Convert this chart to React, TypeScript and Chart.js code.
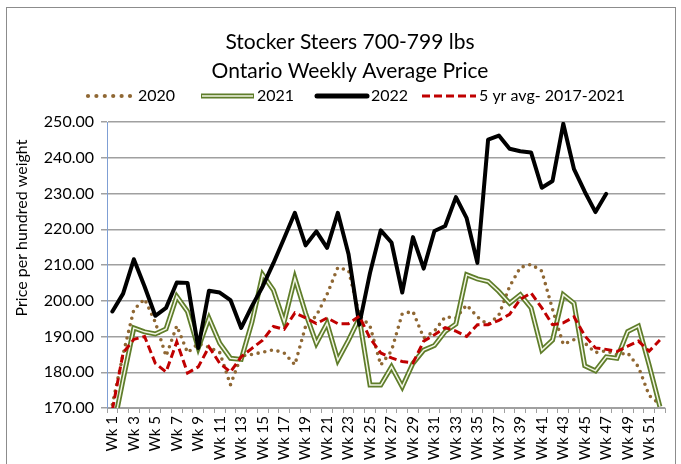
import React, { useEffect, useRef } from 'react';
import { Chart, registerables } from 'chart.js';

Chart.register(...registerables);

const FONT = 'Lato, "Open Sans", sans-serif';

const weeks = [
  'Wk 1', 'Wk 2', 'Wk 3', 'Wk 4', 'Wk 5', 'Wk 6', 'Wk 7', 'Wk 8', 'Wk 9', 'Wk 10',
  'Wk 11', 'Wk 12', 'Wk 13', 'Wk 14', 'Wk 15', 'Wk 16', 'Wk 17', 'Wk 18', 'Wk 19', 'Wk 20',
  'Wk 21', 'Wk 22', 'Wk 23', 'Wk 24', 'Wk 25', 'Wk 26', 'Wk 27', 'Wk 28', 'Wk 29', 'Wk 30',
  'Wk 31', 'Wk 32', 'Wk 33', 'Wk 34', 'Wk 35', 'Wk 36', 'Wk 37', 'Wk 38', 'Wk 39', 'Wk 40',
  'Wk 41', 'Wk 42', 'Wk 43', 'Wk 44', 'Wk 45', 'Wk 46', 'Wk 47', 'Wk 48', 'Wk 49', 'Wk 50',
  'Wk 51', 'Wk 52',
];

const y2020 = [
  171, 185, 197.5, 200.5, 194, 184.5, 193, 185.5, 188, 187,
  185.5, 176.5, 184.5, 185, 185.6, 186.3, 185.4, 182.1, 192.9, 195.8,
  201.8, 209.3, 208.5, 196, 192.9, 182, 186, 196.4, 197, 189.6,
  191.5, 195.5, 195.2, 198.8, 195.5, 193.3, 196, 204, 209.3, 210.2,
  208.3, 197.6, 187.8, 189.1, 188.2, 185.5, 186, 184.9, 185.4, 181.5,
  173.5, 171,
];

const y2021 = [
  163, 178, 192.4, 191.3, 190.7, 192.1, 201.2, 197, 186.8, 195.1,
  188.1, 183.9, 183.6, 194, 207.3, 203, 194.1, 206.3, 196.5, 188.1,
  193.7, 183.4, 189, 195.1, 176.4, 176.4, 181.5, 175.9, 182.5, 186.2,
  187.5, 191.4, 193.5, 207.3, 206.1, 205.4, 202.6, 199.3, 201.7, 198,
  186.2, 189, 201.7, 199.3, 181.8, 180.4, 184.3, 183.9, 191.4, 192.9,
  182, 170.4,
];

const y2022 = [
  197, 202, 211.6, 204, 195.8, 198, 205.1, 205, 186.8, 202.8,
  202.3, 200.2, 192.4, 198.5, 204, 210.5, 217.5, 224.6, 215.5, 219.4,
  214.8, 224.6, 213, 193.3, 207.8, 219.7, 216.3, 202.3, 217.8, 209,
  219.5, 220.9, 229, 223.1, 210.6, 245.1, 246.2, 242.5, 241.8, 241.5,
  231.6, 233.5, 249.5, 236.8, 230.5, 224.8, 229.9, null, null, null,
  null, null,
];

const avg5 = [
  169.5, 185.4, 189.2, 190, 182.5, 180.1, 188.5, 179.8, 181.5, 187.1,
  182.5, 180.1, 184.3, 186.7, 189, 192.8, 192, 196.6, 195.2, 193.6,
  195.2, 193.6, 193.6, 195.7, 189.5, 185.4, 184, 183, 182.6, 188.7,
  190.5, 192.5, 191.5, 190, 193.3, 193.3, 194.5, 196.2, 200.4, 202.2,
  198, 193.3, 193.8, 195.5, 190.2, 186.8, 186.4, 185.8, 187.3, 188.7,
  185.9, 189,
];

const seriesNames = ['2020', '2021', '2022', '5 yr avg- 2017-2021'];
const titleLines = ['Stocker Steers 700-799 lbs', 'Ontario Weekly Average Price'];
const yTitle = 'Price per hundred weight';
const yMin = 170;
const yMax = 250;
const yStep = 10;

const BROWN = '#8f6733';
const GREEN = '#5f7d2a';
const GREEN_IN = '#f3f7e6';
const BLACK = '#000000';
const RED = '#c00000';

const overlay = {
  id: 'overlay',
  afterDraw(chart: any) {
    const ctx = chart.ctx as CanvasRenderingContext2D;
    ctx.save();
    ctx.fillStyle = '#000';
    ctx.textAlign = 'center';
    ctx.textBaseline = 'middle';
    ctx.font = `21px ${FONT}`;
    ctx.fillText(titleLines[0], 350, 42);
    ctx.fillText(titleLines[1], 350, 71);

    const ly = 96;
    ctx.font = `16px ${FONT}`;
    ctx.textAlign = 'left';
    // 2020 dotted
    ctx.fillStyle = BROWN;
    for (let i = 0; i < 6; i++) {
      ctx.beginPath();
      ctx.arc(88 + i * 8.4, ly, 2.1, 0, Math.PI * 2);
      ctx.fill();
    }
    ctx.fillStyle = '#000';
    ctx.fillText(seriesNames[0], 138, ly);
    // 2021 double
    ctx.lineCap = 'butt';
    ctx.strokeStyle = GREEN;
    ctx.lineWidth = 5;
    ctx.beginPath(); ctx.moveTo(201, ly); ctx.lineTo(254, ly); ctx.stroke();
    ctx.strokeStyle = GREEN_IN;
    ctx.lineWidth = 1.5;
    ctx.beginPath(); ctx.moveTo(202, ly); ctx.lineTo(253, ly); ctx.stroke();
    ctx.fillText(seriesNames[1], 257, ly);
    // 2022
    ctx.strokeStyle = BLACK;
    ctx.lineWidth = 5;
    ctx.lineCap = 'round';
    ctx.beginPath(); ctx.moveTo(317, ly); ctx.lineTo(367, ly); ctx.stroke();
    ctx.fillText(seriesNames[2], 371, ly);
    // 5 yr
    ctx.strokeStyle = RED;
    ctx.lineWidth = 3;
    ctx.lineCap = 'butt';
    ctx.setLineDash([8, 4]);
    ctx.beginPath(); ctx.moveTo(422, ly); ctx.lineTo(476, ly); ctx.stroke();
    ctx.setLineDash([]);
    ctx.fillText(seriesNames[3], 479, ly);

    // y title
    ctx.translate(22, 228);
    ctx.rotate(-Math.PI / 2);
    ctx.textAlign = 'center';
    ctx.font = `16px ${FONT}`;
    ctx.fillText(yTitle, 0, 0);
    ctx.restore();
  },
};

export default function App() {
  const ref = useRef<HTMLCanvasElement | null>(null);

  useEffect(() => {
    if (!ref.current) return;
    const chart = new Chart(ref.current, {
      type: 'line',
      data: {
        labels: weeks,
        datasets: [
          {
            label: seriesNames[3],
            data: avg5,
            borderColor: RED,
            borderWidth: 3,
            borderDash: [8, 4],
            pointRadius: 0,
            tension: 0,
            fill: false,
            order: 0,
          },
          {
            label: seriesNames[2],
            data: y2022,
            borderColor: BLACK,
            borderWidth: 4,
            borderJoinStyle: 'round',
            borderCapStyle: 'round',
            pointRadius: 0,
            tension: 0,
            fill: false,
            order: 1,
          },
          {
            label: seriesNames[1] + ' inner',
            data: y2021,
            borderColor: GREEN_IN,
            borderWidth: 1.5,
            pointRadius: 0,
            tension: 0,
            fill: false,
            order: 2,
          },
          {
            label: seriesNames[1],
            data: y2021,
            borderColor: GREEN,
            borderWidth: 5,
            pointRadius: 0,
            tension: 0,
            fill: false,
            order: 3,
          },
          {
            label: seriesNames[0],
            data: y2020,
            borderColor: BROWN,
            borderWidth: 3.6,
            borderDash: [0, 6.8],
            borderCapStyle: 'round',
            pointRadius: 0,
            tension: 0,
            fill: false,
            order: 4,
          },
        ],
      },
      options: {
        animation: false,
        responsive: false,
        devicePixelRatio: 1,
        layout: { padding: { top: 122, right: 11, bottom: 0, left: 0 } },
        plugins: {
          legend: { display: false },
          title: { display: false },
          tooltip: { enabled: false },
        },
        scales: {
          x: {
            type: 'category',
            offset: true,
            afterFit: (scale: any) => { scale.height = 56; },
            grid: {
              display: true,
              offset: true,
              drawOnChartArea: false,
              drawTicks: true,
              tickLength: 5,
              color: '#a0a0a0',
            },
            border: { display: true, color: '#a0a0a0', width: 1 },
            ticks: {
              autoSkip: false,
              minRotation: 90,
              maxRotation: 90,
              padding: 3,
              color: '#000',
              font: { family: FONT, size: 15 },
              callback: (_v: any, i: number) => (i % 2 === 0 ? weeks[i] : ''),
            },
          },
          y: {
            min: yMin,
            max: yMax,
            afterFit: (scale: any) => { scale.width = 107; },
            grid: {
              color: '#a0a0a0',
              lineWidth: 1.5,
              drawTicks: true,
              tickLength: 6,
            },
            border: { display: true, color: '#7f9fd4', width: 1 },
            ticks: {
              stepSize: yStep,
              padding: 7,
              color: '#000',
              font: { family: FONT, size: 16 },
              callback: (v: any) => Number(v).toFixed(2),
            },
          },
        },
      },
      plugins: [overlay],
    });
    return () => chart.destroy();
  }, []);

  return (
    <div style={{ position: 'absolute', left: 0, top: 0, width: 681, height: 464, overflow: 'hidden', background: '#fff' }}>
      <canvas ref={ref} width={681} height={464} style={{ width: 681, height: 464, display: 'block' }} />
      <div style={{ position: 'absolute', left: 6, top: 7, width: 668, height: 500, borderLeft: '1px solid #8c8c8c', borderTop: '1px solid #8c8c8c', borderRight: '1px solid #8c8c8c', pointerEvents: 'none' }} />
    </div>
  );
}
